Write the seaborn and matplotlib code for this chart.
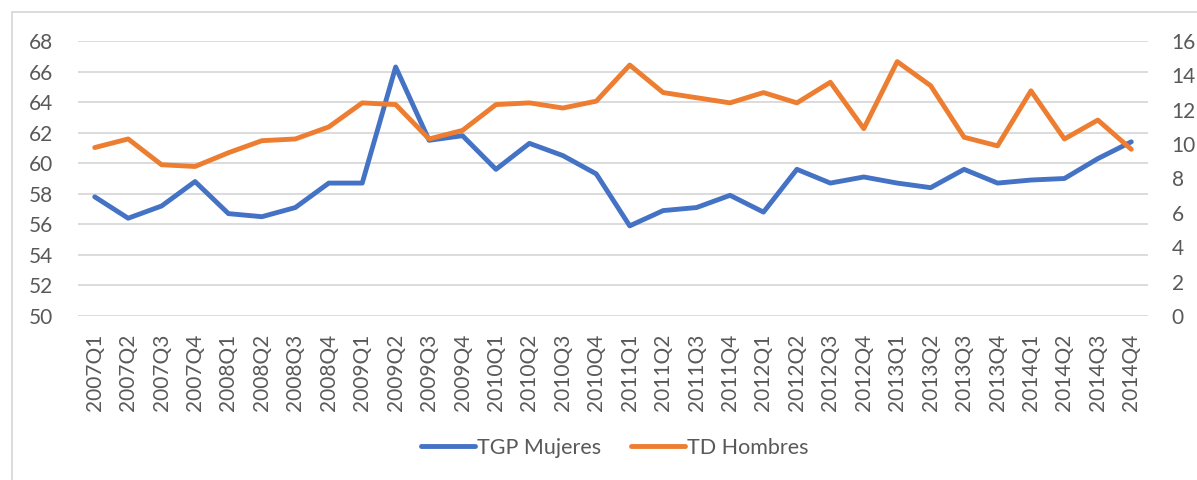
import numpy as np
import pandas as pd
import matplotlib
matplotlib.use("Agg")
import matplotlib.pyplot as plt
import seaborn as sns
from matplotlib.lines import Line2D

sns.set_style("white")
plt.rcParams["font.family"] = ["Lato", "DejaVu Sans"]

# data
quarters = [f"{y}Q{q}" for y in range(2007, 2015) for q in range(1, 5)]
tgp_mujeres = [57.8, 56.4, 57.2, 58.8, 56.7, 56.5, 57.1, 58.7,
               58.7, 66.3, 61.5, 61.8, 59.6, 61.3, 60.5, 59.3,
               55.9, 56.9, 57.1, 57.9, 56.8, 59.6, 58.7, 59.1,
               58.7, 58.4, 59.6, 58.7, 58.9, 59.0, 60.3, 61.4]
td_hombres = [9.8, 10.3, 8.8, 8.7, 9.5, 10.2, 10.3, 11.0,
              12.4, 12.3, 10.3, 10.8, 12.3, 12.4, 12.1, 12.5,
              14.6, 13.0, 12.7, 12.4, 13.0, 12.4, 13.6, 10.9,
              14.8, 13.4, 10.4, 9.9, 13.1, 10.3, 11.4, 9.7]

df = pd.DataFrame({"quarter": quarters, "tgp": tgp_mujeres, "td": td_hombres})
df["pos"] = np.arange(len(df))

blue = "#4472C4"
orange = "#ED7D31"
grey = "#595959"

fig = plt.figure(figsize=(11.97, 4.8), dpi=100)
ax = fig.add_axes([78 / 1197, 1 - 316 / 480, (1148 - 78) / 1197, 275 / 480])
ax2 = ax.twinx()

sns.lineplot(x="pos", y="tgp", data=df, ax=ax, color=blue, linewidth=3.5, zorder=3)
sns.lineplot(x="pos", y="td", data=df, ax=ax2, color=orange, linewidth=3.5, zorder=3)

ax.set_ylim(50, 68)
ax.set_yticks(range(50, 69, 2))
ax2.set_ylim(0, 16)
ax2.set_yticks(range(0, 17, 2))
ax.set_xlim(-0.5, len(df) - 0.5)
ax.set_xticks(df["pos"])
ax.set_xticklabels(df["quarter"], rotation=90)

ax.grid(axis="y", color="#d9d9d9", linewidth=1.3)
ax.set_axisbelow(True)
for a in (ax, ax2):
    for s in a.spines.values():
        s.set_visible(False)
    a.set_xlabel("")
    a.set_ylabel("")
    a.tick_params(length=0, labelsize=15, labelcolor=grey)
ax.tick_params(axis="y", pad=18)
ax2.tick_params(axis="y", pad=17)
ax.tick_params(axis="x", pad=13)

# chart border (left and top)
fig.add_artist(Line2D([12 / 1197, 12 / 1197], [0, 1 - 12 / 480], color="#d9d9d9", linewidth=1.3))
fig.add_artist(Line2D([12 / 1197, 1], [1 - 12 / 480, 1 - 12 / 480], color="#d9d9d9", linewidth=1.3))

handles = [Line2D([], [], color=blue, linewidth=3.5), Line2D([], [], color=orange, linewidth=3.5)]
fig.legend(handles, ["TGP Mujeres", "TD Hombres"], loc="center", bbox_to_anchor=(615 / 1197, 1 - 448 / 480),
           ncol=2, frameon=False, fontsize=15.5, labelcolor=grey, handlelength=2.5,
           handletextpad=0.1, columnspacing=1.4)

fig.savefig("out.png", dpi=100)
